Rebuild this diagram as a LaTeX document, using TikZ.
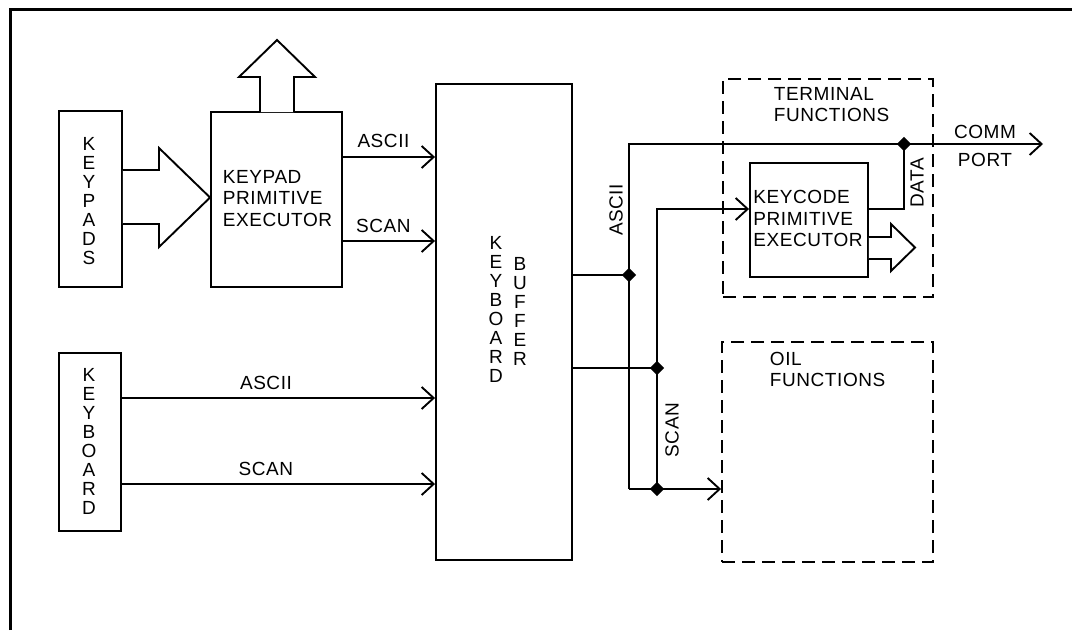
\documentclass[tikz,border=0pt]{standalone}
\usepackage{fontspec}
\usetikzlibrary{arrows.meta,calc,shapes.geometric}
\newfontfamily\lblfont[LetterSpace=3]{Liberation Sans}
\begin{document}
\begin{tikzpicture}[x=1pt,y=-1pt,
  line width=1.9pt,
  box/.style={draw, line width=1.9pt, inner sep=0pt, minimum width=#1},
  dbox/.style={draw, line width=1.9pt, dash pattern=on 13pt off 7pt, inner sep=0pt},
  txt/.style={font={\lblfont\fontsize{19}{21.5}\selectfont}, inner sep=0pt, align=left},
  stack/.style={font={\lblfont\fontsize{19}{19}\selectfont}, inner sep=0pt, align=center},
  lbl/.style={font={\lblfont\fontsize{19}{21.5}\selectfont}, inner sep=0pt},
  arr/.style={-{Straight Barb[length=12pt,width=22pt,line width=1.9pt]}},
  fat/.style={draw, line width=1.9pt, fill=white, line join=miter},
  dot/.style={diamond, fill=black, inner sep=0pt, minimum size=15pt}]
\useasboundingbox (0,0) rectangle (1072,630);
% outer frame (top and left only)
\draw[line width=2.2pt] (10.5,630) -- (10.5,9.5) -- (1072,9.5);

% boxes
\node[box=63pt, minimum height=176pt] (keypads) at (90.5,199) {};
\node[box=131pt, minimum height=175pt] (kpe) at (276.5,199.5) {};
\node[box=136pt, minimum height=476pt] (buffer) at (504,322) {};
\node[box=62pt, minimum height=178pt] (keyboard) at (90,442) {};
\node[dbox, minimum width=210pt, minimum height=218pt] (term) at (828,188) {};
\node[box=118pt, minimum height=114pt] (kcpe) at (809,220) {};
\node[dbox, minimum width=211pt, minimum height=220pt] (oil) at (827.5,452) {};

% texts
\node[stack] (tkeypads) at (89,201) {K\\E\\Y\\P\\A\\D\\S};
\node[stack] (tkeyboard) at (89,441) {K\\E\\Y\\B\\O\\A\\R\\D};
\node[stack] (tbuf1) at (496,309) {K\\E\\Y\\B\\O\\A\\R\\D};
\node[stack] (tbuf2) at (520,311.5) {B\\U\\F\\F\\E\\R};
\node[txt, anchor=west] (tkpe) at (222,198.5) {KEYPAD\\PRIMITIVE\\EXECUTOR};
\node[txt, anchor=west] (tkcpe) at (752.5,218.5) {KEYCODE\\PRIMITIVE\\EXECUTOR};
\node[txt, anchor=west] (tterm) at (773,104.5) {TERMINAL\\FUNCTIONS};
\node[txt, anchor=west] (toil) at (769,369.5) {OIL\\FUNCTIONS};

% fat arrows
\draw[fat] (keypads.east |- 0,170) -- (159,170) -- (159,148) -- (kpe.west |- 0,197.5)
  -- (159,247) -- (159,224) -- (keypads.east |- 0,224);
\draw[fat] (260,112) -- (260,77) -- (239,77) -- (277,40) -- (315,77) -- (294,77) -- (294,112);
\draw[fat] (kcpe.east |- 0,237) -- (891,237) -- (891,224) -- (915,247.5) -- (891,271) -- (891,259) -- (kcpe.east |- 0,259);

% left connectors
\draw[arr] (kpe.east |- 0,157) -- (buffer.west |- 0,157) node[lbl, pos=0.44, above=8pt] (la1) {ASCII};
\draw[arr] (kpe.east |- 0,241) -- (buffer.west |- 0,241) node[lbl, pos=0.44, above=7pt] (ls1) {SCAN};
\draw[arr] (keyboard.east |- 0,398) -- (buffer.west |- 0,398) node[lbl, pos=0.46, above=7pt] (la2) {ASCII};
\draw[arr] (keyboard.east |- 0,484) -- (buffer.west |- 0,484) node[lbl, pos=0.46, above=7pt] (ls2) {SCAN};

% right side wiring
\coordinate (abot) at (629,489);
\coordinate (atop) at (629,144);
\coordinate (commport) at (1043,144);
\coordinate (stop) at (657,209);
\coordinate (dcorner) at (904,209);

\draw (buffer.east |- 0,275) -- (629,275);
\draw (buffer.east |- 0,368) -- (657,368);
\draw[arr] (abot) -- (atop) -- (commport);
\draw[arr] (abot) -- (oil.west |- abot);
\draw[arr] (657,489) -- (stop) -- (kcpe.west |- stop);
\draw (kcpe.east |- dcorner) -- (dcorner) -- (904,144);

\node[dot] (j1) at (629,275) {};
\node[dot] (j2) at (657,368) {};
\node[dot] (j3) at (904,144) {};
\node[dot] (j4) at (657,489) {};

% labels on right
\node[lbl, rotate=90] (lasc) at (616,210) {ASCII};
\node[lbl, rotate=90] (ldata) at (917,183) {DATA};
\node[lbl, rotate=90] (lscan) at (672,430) {SCAN};
\node[lbl, align=center, font={\lblfont\fontsize{19}{28}\selectfont}] (lcomm) at (985,146) {COMM\\PORT};
\end{tikzpicture}
\end{document}
